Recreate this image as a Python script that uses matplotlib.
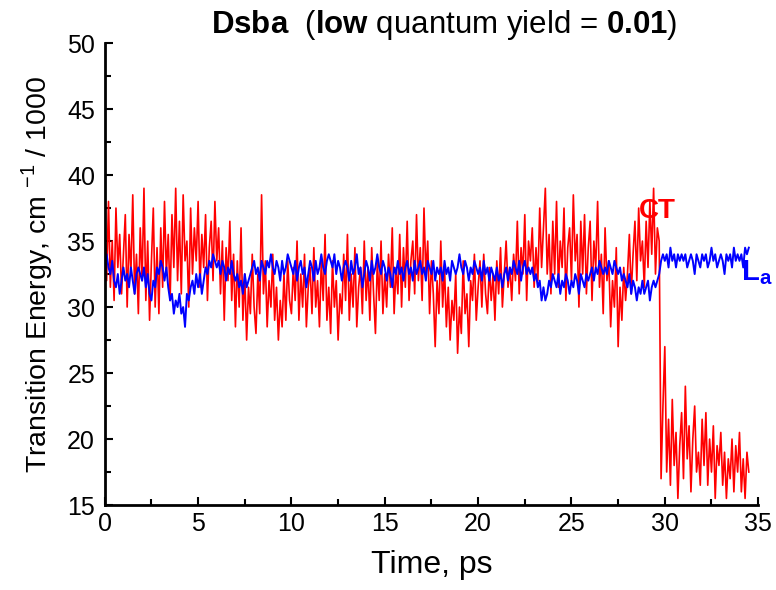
import matplotlib
matplotlib.use("Agg")
import matplotlib.pyplot as plt
import numpy as np
from matplotlib.ticker import MultipleLocator

plt.rcParams["font.family"] = ["Liberation Sans", "DejaVu Sans"]
plt.rcParams["mathtext.fontset"] = "custom"
plt.rcParams["mathtext.rm"] = "Liberation Sans"
plt.rcParams["mathtext.bf"] = "Liberation Sans:bold"

dt = 0.1

# CT state, values (cm^-1 / 1000), one row per ps
ct_energy = [
    36.5, 32.0, 38.0, 31.5, 35.0, 30.5, 37.5, 33.0, 35.5, 31.0,
    34.0, 37.0, 30.0, 35.5, 32.5, 38.5, 31.0, 34.0, 29.5, 36.0,
    32.0, 39.0, 30.5, 35.0, 29.0, 33.5, 37.5, 30.0, 34.5, 29.5,
    36.0, 31.5, 38.0, 32.5, 35.5, 30.5, 37.0, 33.0, 39.0, 32.0,
    36.5, 31.0, 38.5, 33.5, 35.0, 30.0, 37.5, 32.5, 36.0, 33.5,
    38.0, 31.5, 35.5, 33.0, 37.0, 30.5, 34.5, 36.5, 32.0, 38.0,
    33.5, 36.0, 31.0, 35.0, 29.0, 34.5, 32.0, 36.5, 30.5, 34.0,
    28.5, 33.5, 30.0, 36.0, 29.0, 32.5, 27.5, 31.5, 29.5, 34.0,
    30.0, 28.0, 32.5, 29.5, 38.5, 31.0, 33.5, 28.5, 32.0, 30.0,
    34.0, 29.0, 31.5, 27.5, 30.5, 28.5, 32.5, 29.0, 33.5, 30.5,
    29.5, 33.0, 30.5, 35.0, 29.0, 32.5, 30.0, 34.0, 28.5, 31.5,
    33.0, 29.5, 34.5, 30.0, 32.0, 28.5, 33.5, 30.5, 35.5, 29.0,
    31.5, 28.0, 33.5, 30.0, 32.0, 27.5, 31.0, 29.5, 34.0, 30.5,
    35.5, 29.0, 32.5, 30.0, 34.5, 28.5, 31.5, 33.0, 29.5, 35.0,
    30.5, 33.0, 29.0, 34.5, 31.0, 28.0, 33.5, 30.5, 35.0, 29.5,
    32.5, 30.0, 34.0, 31.5, 36.0, 29.5, 33.0, 31.0, 35.5, 30.0,
    34.5, 31.5, 36.5, 30.5, 33.5, 35.0, 31.0, 37.0, 32.0, 34.5,
    30.5, 37.5, 32.5, 35.0, 29.5, 33.5, 31.0, 27.0, 32.0, 29.5,
    35.0, 30.0, 33.0, 28.5, 31.5, 27.5, 30.5, 29.0, 32.5, 26.5,
    30.0, 28.0, 33.5, 29.5, 31.0, 27.0, 32.0, 30.5, 34.0, 29.0,
    31.5, 33.5, 30.0, 34.0, 31.0, 29.5, 33.0, 30.5, 32.5, 29.0,
    33.5, 31.0, 34.5, 30.0, 32.5, 35.0, 31.5, 33.0, 30.5, 34.0,
    32.0, 36.5, 31.0, 34.5, 32.5, 37.0, 30.5, 35.0, 33.5, 36.0,
    31.5, 34.5, 32.0, 37.5, 33.0, 36.0, 39.0, 32.5, 35.5, 31.0,
    36.5, 32.5, 38.0, 31.5, 35.0, 33.0, 37.5, 30.5, 34.5, 36.0,
    32.0, 38.5, 33.5, 35.5, 30.0, 36.5, 32.5, 37.0, 31.0, 34.5,
    36.5, 30.5, 35.0, 33.0, 38.0, 31.5, 34.0, 29.5, 36.0, 32.0,
    33.5, 28.5, 32.0, 30.0, 34.5, 27.0, 31.5, 29.0, 33.0, 30.5,
    32.5, 35.5, 31.0, 34.0, 36.5, 32.0, 37.5, 33.5, 35.0, 31.5,
    36.5, 33.0, 38.0, 34.0, 39.0, 32.5, 36.0, 35.0, 17.0, 22.5,
    27.0, 17.5, 21.5, 16.5, 23.0, 18.0, 20.5, 15.5, 19.5, 22.0,
    17.0, 24.0, 18.5, 21.0, 16.0, 20.0, 22.5, 17.5, 19.0, 16.5,
    21.5, 18.0, 22.0, 16.5, 20.0, 17.5, 21.0, 15.5, 19.5, 18.0,
    20.5, 16.5, 19.0, 15.5, 18.5, 17.0, 20.0, 16.0, 19.5, 17.5,
    20.5, 16.0, 18.5, 15.5, 19.0, 17.5,
]

# La state
la_energy = [
    33.5, 34.0, 33.0, 32.5, 33.5, 32.0, 31.5, 32.5, 31.0, 32.0,
    33.0, 32.0, 32.5, 31.5, 33.0, 32.0, 31.0, 32.5, 33.0, 32.5,
    32.0, 33.0, 31.5, 32.5, 31.0, 30.5, 32.0, 31.5, 33.0, 32.5,
    33.5, 33.0, 32.0, 33.0, 31.5, 30.5, 31.0, 29.5, 30.5, 30.0,
    31.0, 29.5, 30.0, 28.5, 31.0, 30.5, 31.5, 32.0, 31.0, 32.5,
    31.5, 32.5, 31.0, 32.0, 33.0, 32.5, 33.5, 33.0, 34.0, 33.5,
    33.0, 33.5, 32.5, 33.5, 33.0, 32.0, 33.0, 32.5, 33.5, 32.5,
    32.0, 32.5, 31.5, 32.0, 31.0, 32.5, 31.5, 32.0, 32.5, 33.0,
    33.5, 32.5, 33.0, 32.0, 33.5, 33.0, 32.5, 33.5, 33.0, 34.0,
    33.0, 32.5, 33.5, 33.0, 32.0, 33.5, 32.5, 33.0, 34.0, 33.5,
    33.0, 32.5, 33.5, 32.0, 33.0, 33.5, 32.5, 33.0, 31.5, 32.5,
    33.5, 33.0, 32.0, 33.5, 32.5, 33.0, 34.0, 33.0, 32.5, 33.5,
    34.0, 33.5, 33.0, 34.0, 32.5, 33.5, 33.0, 32.0, 33.0, 33.5,
    33.0, 32.0, 33.5, 32.5, 33.0, 34.0, 32.5, 33.0, 31.5, 32.5,
    33.5, 33.0, 32.0, 33.5, 32.5, 33.0, 34.0, 33.0, 32.5, 33.5,
    33.0, 32.0, 33.0, 32.5, 31.5, 33.0, 32.5, 33.5, 32.5, 33.0,
    32.0, 33.0, 33.5, 32.5, 33.0, 32.0, 33.5, 32.5, 33.0, 33.5,
    32.5, 33.0, 32.0, 33.5, 33.0, 32.5, 33.5, 32.0, 33.0, 32.5,
    33.0, 32.0, 33.5, 32.5, 33.0, 32.0, 33.5, 33.0, 32.5, 33.0,
    34.0, 33.0, 32.5, 33.5, 33.0, 32.0, 33.0, 32.5, 33.5, 33.0,
    32.5, 33.0, 32.0, 33.5, 32.5, 33.0, 32.0, 33.0, 32.5, 32.0,
    33.0, 32.0, 32.5, 31.5, 32.5, 33.0, 32.0, 33.0, 32.5, 33.5,
    33.0, 32.5, 33.5, 32.0, 33.0, 33.5, 32.5, 33.0, 32.5, 33.0,
    32.0, 32.5, 31.5, 32.0, 30.5, 31.5, 30.5, 31.0, 32.0, 31.5,
    32.5, 32.0, 31.5, 32.5, 31.0, 32.0, 31.5, 32.5, 32.0, 31.0,
    32.0, 31.5, 32.5, 32.0, 31.0, 32.5, 32.0, 31.5, 32.5, 32.0,
    32.5, 33.0, 32.0, 33.0, 32.5, 33.5, 33.0, 32.5, 33.0, 32.5,
    33.5, 33.0, 32.5, 33.5, 33.0, 32.5, 33.0, 32.0, 32.5, 32.0,
    31.5, 32.5, 31.0, 32.0, 31.5, 30.5, 31.5, 31.0, 32.0, 31.0,
    31.5, 32.0, 30.5, 31.5, 32.0, 31.5, 32.0, 32.5, 33.5, 34.0,
    33.5, 34.0, 33.0, 34.5, 33.5, 34.0, 33.0, 34.0, 33.5, 34.0,
    33.5, 34.0, 33.0, 33.5, 34.0, 33.5, 32.5, 34.0, 33.5, 33.0,
    34.0, 33.5, 34.0, 33.0, 33.5, 34.5, 33.5, 34.0, 33.0, 33.5,
    34.0, 33.5, 32.5, 34.0, 33.5, 34.0, 33.0, 34.5, 33.5, 34.0,
    33.5, 34.0, 33.0, 34.5, 34.0, 34.5,
]

t_ct = np.arange(len(ct_energy)) * dt
t_la = np.arange(len(la_energy)) * dt

fig = plt.figure(figsize=(7.76, 5.9), dpi=100)
ax = fig.add_axes([0.135, 0.144, 0.842, 0.783])

ax.plot(t_ct, ct_energy, color="#ff0000", lw=1.2)
ax.plot(t_la, la_energy, color="#0000ff", lw=1.4)

ax.set_xlim(0, 35)
ax.set_ylim(15, 50)
ax.xaxis.set_major_locator(MultipleLocator(5))
ax.xaxis.set_minor_locator(MultipleLocator(2.5))
ax.yaxis.set_major_locator(MultipleLocator(5))
ax.yaxis.set_minor_locator(MultipleLocator(2.5))
ax.tick_params(which="both", direction="in", width=1.5, labelsize=18)
ax.tick_params(which="major", length=6, pad=5)
ax.tick_params(which="minor", length=4)
ax.tick_params(axis="y", pad=7)
for side in ("top", "right"):
    ax.spines[side].set_visible(False)
for side in ("left", "bottom"):
    ax.spines[side].set_linewidth(2)

ax.set_xlabel("Time, ps", fontsize=23, labelpad=10)
ax.set_ylabel("Transition Energy, cm $^{-1}$ / 1000", fontsize=20.5, labelpad=9)

ax.text(28.6, 37.3, "CT", color="#ff0000", fontsize=20, fontweight="bold",
        va="center", ha="left")
ax.text(34.1, 32.6, "L$_{\\bf a}$", color="#0000ff", fontsize=21,
        fontweight="bold", va="center", ha="left")

fig.text(0.573, 0.958,
         "$\\bf{Dsba}$  ($\\bf{low}$ quantum yield = $\\bf{0.01}$)",
         fontsize=22.5, ha="center", va="center")

fig.savefig("out.png", dpi=100)
plt.close(fig)
